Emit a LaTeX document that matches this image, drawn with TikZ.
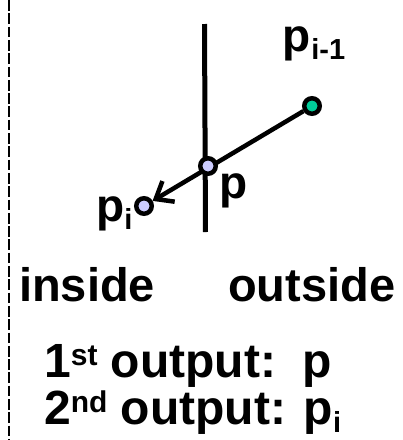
\documentclass[tikz,border=0pt]{standalone}
\usepackage{fontspec}
\setmainfont{Liberation Sans}
\usetikzlibrary{arrows.meta,backgrounds}
\definecolor{ptgreen}{RGB}{0,204,153}
\definecolor{ptlav}{RGB}{204,204,255}
\tikzset{
  ptnode/.style={circle,draw=black,line width=4.5pt,minimum size=15.5pt,inner sep=0pt},
  lbl/.style={inner sep=0pt,anchor=base west,font=\bfseries},
  big/.style={lbl,font=\bfseries\fontsize{47}{47}\selectfont},
  outl/.style={lbl,font=\bfseries\fontsize{48}{48}\selectfont},
  ptl/.style={lbl,font=\bfseries\fontsize{46}{46}\selectfont},
}
\newcommand{\mysub}[1]{\raisebox{-8pt}{\fontsize{29}{29}\selectfont #1}}
\newcommand{\mysup}[1]{\raisebox{12pt}{\fontsize{30}{30}\selectfont #1}}
\begin{document}
\begin{tikzpicture}[x=1pt,y=-1pt]
\useasboundingbox (0,0) rectangle (403,440);
% dashed boundary
\coordinate (dtop) at (8.5,0);
\coordinate (dbot) at (8.5,440);
\draw[line width=2pt,dash pattern=on 10.7pt off 2.6pt] (dtop) -- (dbot);
% clipping edge
\coordinate (etop) at (204.5,24);
\coordinate (ebot) at (205.5,232);
\draw[line width=5pt] (etop) -- (ebot);
% points
\node[ptnode,fill=ptgreen] (pim1) at (312,106) {};
\node[ptnode,fill=ptlav] (p) at (208,166) {};
\node[ptnode,fill=ptlav] (pi) at (144,206) {};
\begin{scope}[on background layer]
\draw[line width=4.5pt,-{Straight Barb[length=15pt,width=24pt]}] (pim1) -- (pi);
\end{scope}
% labels
\node[ptl] (lpim1) at (282,51) {p\kern1pt\mysub{i-1}};
\node[ptl] (lp) at (219,198) {p};
\node[ptl] (lpi) at (96,221) {p\mysub{i}};
\node[big] (inside) at (19,301) {inside};
\node[big] (outside) at (228,301) {outside};
\node[outl] (o1) at (44,377) {1\mysup{st} output:\ \ p};
\node[outl] (o2) at (44,424) {2\mysup{nd} output: p\mysub{i}};
\end{tikzpicture}
\end{document}
